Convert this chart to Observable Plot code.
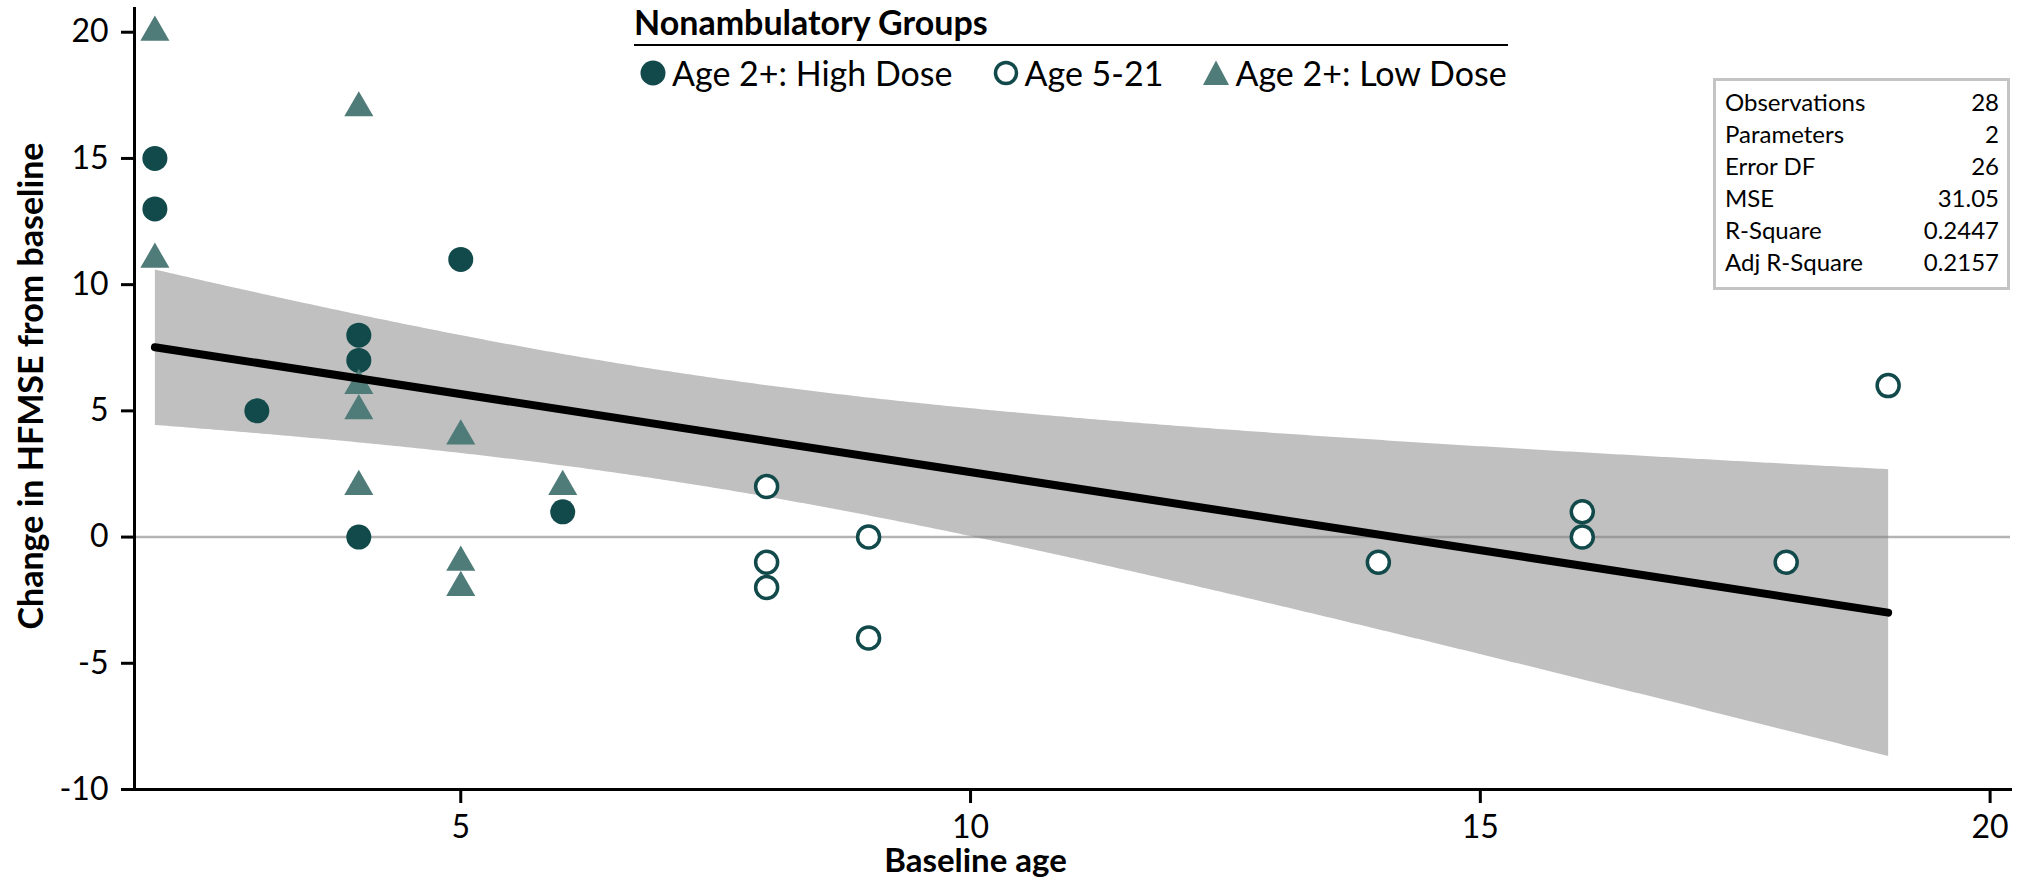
<!DOCTYPE html>
<html><head><meta charset="utf-8">
<script src="https://cdn.jsdelivr.net/npm/d3@7"></script>
<script src="https://cdn.jsdelivr.net/npm/@observablehq/plot@0.6"></script>
<style>
body{margin:0;background:#fff;font-family:Lato, sans-serif;color:#000;}
#wrap{position:relative;width:2018px;height:880px;overflow:hidden;}
#legend{position:absolute;left:634px;top:0px;width:874px;}
#legend .ltitle{font-weight:bold;font-size:34px;line-height:44px;height:44px;border-bottom:2.5px solid #000;}
#legend .litems{display:flex;align-items:center;margin-top:7px;height:40px;padding-left:6px;}
#legend .item{display:flex;align-items:center;margin-right:40px;font-size:34px;line-height:40px;white-space:nowrap;}
#legend .item svg{margin-right:6px;display:block;}
#stats{position:absolute;left:1713px;top:78px;width:274px;height:201px;border:3px solid #c4c4c4;background:#fff;padding:5px 8px 0 9px;box-sizing:content-box;}
#stats table{border-collapse:collapse;width:100%;}
#stats td{font-size:24px;line-height:32px;padding:0;white-space:nowrap;}
#stats td.v{text-align:right;}
</style></head><body><div id="wrap"></div>
<script>
// ---- data ----
const groups = ["Age 2+: High Dose", "Age 5-21", "Age 2+: Low Dose"];
const highDoseAge    = [2, 2, 3, 4, 4, 4, 5, 6];
const highDoseChange = [15, 13, 5, 8, 7, 0, 11, 1];
const age521Age      = [8, 8, 8, 9, 9, 14, 16, 16, 18, 19];
const age521Change   = [2, -1, -2, 0, -4, -1, 1, 0, -1, 6];
const lowDoseAge     = [2, 2, 4, 4, 4, 4, 5, 5, 5, 6];
const lowDoseChange  = [20, 11, 17, 6, 5, 2, 4, -1, -2, 2];
const xTicks = [5, 10, 15, 20];
const yTicks = [-10, -5, 0, 5, 10, 15, 20];
const statLabels = ["Observations", "Parameters", "Error DF", "MSE", "R-Square", "Adj R-Square"];
const statValues = ["28", "2", "26", "31.05", "0.2447", "0.2157"];
const xLabel = "Baseline age";
const yLabel = "Change in HFMSE from baseline";
const legendTitle = "Nonambulatory Groups";

const colHigh = "#124a4b", colOpen = "#124a4b", colLow = "#4f7b79";

const toRows = (ages, vals, g) => ages.map((a, i) => ({age: a, change: vals[i], group: g}));
const highDose = toRows(highDoseAge, highDoseChange, groups[0]);
const age521 = toRows(age521Age, age521Change, groups[1]);
const lowDose = toRows(lowDoseAge, lowDoseChange, groups[2]);
const all = [...highDose, ...age521, ...lowDose];

const plot = Plot.plot({
  width: 2018, height: 880,
  marginLeft: 134, marginRight: 8, marginTop: 8, marginBottom: 91,
  style: {fontFamily: "Lato, sans-serif", color: "#000", background: "white", overflow: "visible"},
  x: {domain: [1.8, 20.2]},
  y: {domain: [-10, 20.94]},
  marks: [
    Plot.linearRegressionY(all, {x: "age", y: "change", ci: 0.95, fill: "#c0c0c0", fillOpacity: 1, stroke: "none"}),
    Plot.ruleY([0], {stroke: "#808080", strokeOpacity: 0.6, strokeWidth: 2.5}),
    Plot.dot(highDose, {x: "age", y: "change", r: 12.5, fill: colHigh, symbol: "circle"}),
    Plot.dot(age521, {x: "age", y: "change", r: 11, fill: "white", stroke: colOpen, strokeWidth: 3.5}),
    Plot.dot(lowDose, {x: "age", y: "change", r: 10.8, fill: colLow, symbol: "triangle"}),
    Plot.linearRegressionY(all, {x: "age", y: "change", ci: 0, stroke: "black", strokeWidth: 8}),
    Plot.axisX({ticks: xTicks, tickFormat: d => String(d), tickSize: 14, tickPadding: 12, fontSize: 32, strokeWidth: 3, label: null}),
    Plot.axisY({ticks: yTicks, tickFormat: d => String(d), tickSize: 13, tickPadding: 13, fontSize: 32, strokeWidth: 3, label: null}),
    Plot.frame({anchor: "left", strokeWidth: 3}),
    Plot.frame({anchor: "bottom", strokeWidth: 3}),
    Plot.text([xLabel], {text: d => d, frameAnchor: "bottom", textAnchor: "middle", lineAnchor: "middle", dx: -97, dy: 72, fontSize: 33, fontWeight: "bold"}),
    Plot.text([yLabel], {text: d => d, frameAnchor: "left", textAnchor: "middle", lineAnchor: "middle", rotate: -90, dx: -102, dy: -13, fontSize: 34, fontWeight: "bold"})
  ]
});
const wrap = document.getElementById("wrap");
wrap.appendChild(plot);

// legend
const legend = d3.select(wrap).append("div").attr("id", "legend");
legend.append("div").attr("class", "ltitle").text(legendTitle);
const items = legend.append("div").attr("class", "litems");
const markerStyles = [
  {shape: "circle", fill: colHigh, stroke: "none"},
  {shape: "open", fill: "white", stroke: colOpen},
  {shape: "triangle", fill: colLow, stroke: "none"}
];
groups.forEach((g, i) => {
  const it = items.append("div").attr("class", "item");
  const svg = it.append("svg").attr("width", 26).attr("height", 26);
  const m = markerStyles[i];
  if (m.shape === "circle") svg.append("circle").attr("cx", 13).attr("cy", 13).attr("r", 12.5).attr("fill", m.fill);
  else if (m.shape === "open") svg.append("circle").attr("cx", 13).attr("cy", 13).attr("r", 10.5).attr("fill", m.fill).attr("stroke", m.stroke).attr("stroke-width", 3.5);
  else svg.append("path").attr("d", "M13,0.5L26,25L0,25Z").attr("fill", m.fill);
  it.append("span").text(g);
});

// stats box
const stats = d3.select(wrap).append("div").attr("id", "stats");
const tb = stats.append("table");
statLabels.forEach((l, i) => {
  const tr = tb.append("tr");
  tr.append("td").text(l);
  tr.append("td").attr("class", "v").text(statValues[i]);
});
</script></body></html>
